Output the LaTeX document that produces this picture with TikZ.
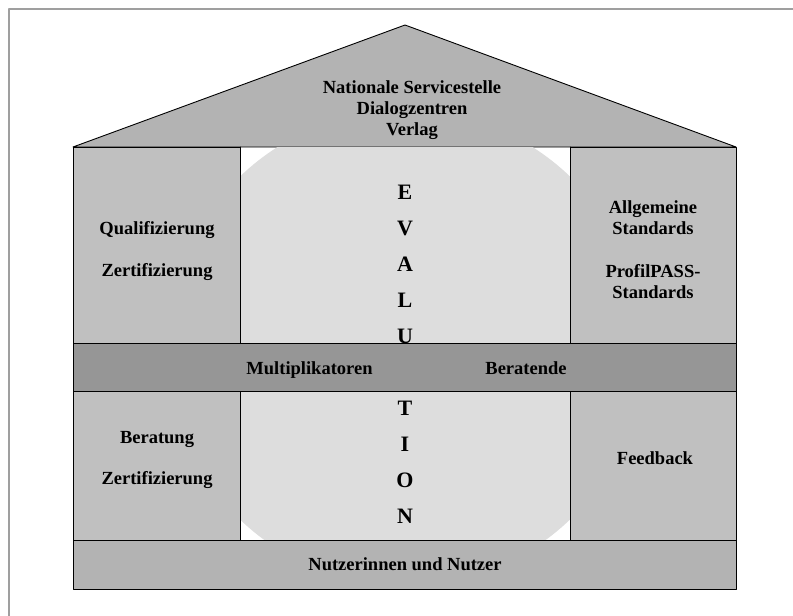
\documentclass[tikz,border=0pt]{standalone}
\usepackage{fontspec}
\setmainfont{Liberation Serif}
\definecolor{dachgrau}{HTML}{B3B3B3}
\definecolor{seitengrau}{HTML}{C0C0C0}
\definecolor{bandgrau}{HTML}{969696}
\definecolor{kreisgrau}{HTML}{DDDDDD}
\tikzset{
	txt/.style={anchor=base, align=center, font=\fontsize{18.5}{21}\selectfont\bfseries},
	buchst/.style={anchor=base, font=\fontsize{22}{24}\selectfont\bfseries},
	box/.style={draw=black, line width=0.9pt}
}
\begin{document}
\begin{tikzpicture}[x=1pt, y=-1pt, line join=round, line cap=round]
				\def\xl{73} \def\xa{240} \def\xb{570} \def\xr{736} % Spalten
				\def\ya{147} \def\yb{343} \def\yc{391} \def\yd{540} \def\ye{589} % Zeilen
				\useasboundingbox (0,0) rectangle (793,616);
				\draw[color=gray!75, line width=1.3pt] (9,616)--(9,9)--(793,9);
				% Dach
				\draw[box, fill=dachgrau] (\xl,\ya)--(405,25)--(\xr,\ya)--cycle;
				\node[txt] (dach) at (412,135) {Nationale Servicestelle\\Dialogzentren\\Verlag};
				% Kreis hinter EVALUATION
				\begin{scope}
				\clip (\xa,\ya) rectangle (\xb,\yd);
				\fill[kreisgrau] (405,348) circle (238pt);
				\end{scope}
				\draw[box] (\xa,\ya)--(\xa,\yd);
				\draw[box] (\xb,\ya)--(\xb,\yd);
				% Seiten
				\draw[box, fill=seitengrau] (\xl,\ya) rectangle (\xa,\yb);
				\draw[box, fill=seitengrau] (\xb,\ya) rectangle (\xr,\yb);
				\draw[box, fill=seitengrau] (\xl,\yc) rectangle (\xa,\yd);
				\draw[box, fill=seitengrau] (\xb,\yc) rectangle (\xr,\yd);
				\node[txt] (quali) at (157,234) {Qualifizierung};
				\node[txt] (zertA) at (157,276) {Zertifizierung};
				\node[txt] (allg) at (653,234) {Allgemeine\\Standards};
				\node[txt] (profil) at (653,298) {ProfilPASS-\\Standards};
				\node[txt] (berat) at (157,443) {Beratung};
				\node[txt] (zertB) at (157,484) {Zertifizierung};
				\node[txt] (feed) at (655,464) {Feedback};
				% Buchstaben
				\foreach \b [count=\i from 0] in {E,V,A,L,U}
					\node[buchst] (ev\i) at (405,199+36*\i) {\b};
				\foreach \b [count=\i from 0] in {T,I,O,N}
					\node[buchst] (ti\i) at (405,415+36*\i) {\b};
				% Band und Boden
				\draw[box, fill=bandgrau] (\xl,\yb) rectangle (\xr,\yc);
				\node[txt] (multi) at (309.5,374) {Multiplikatoren};
				\node[txt] (berate) at (526,374) {Beratende};
				\draw[box, fill=dachgrau] (\xl,\yd) rectangle (\xr,\ye);
				\node[txt] (nutzer) at (405,570) {Nutzerinnen und Nutzer};
			\end{tikzpicture}
\end{document}
